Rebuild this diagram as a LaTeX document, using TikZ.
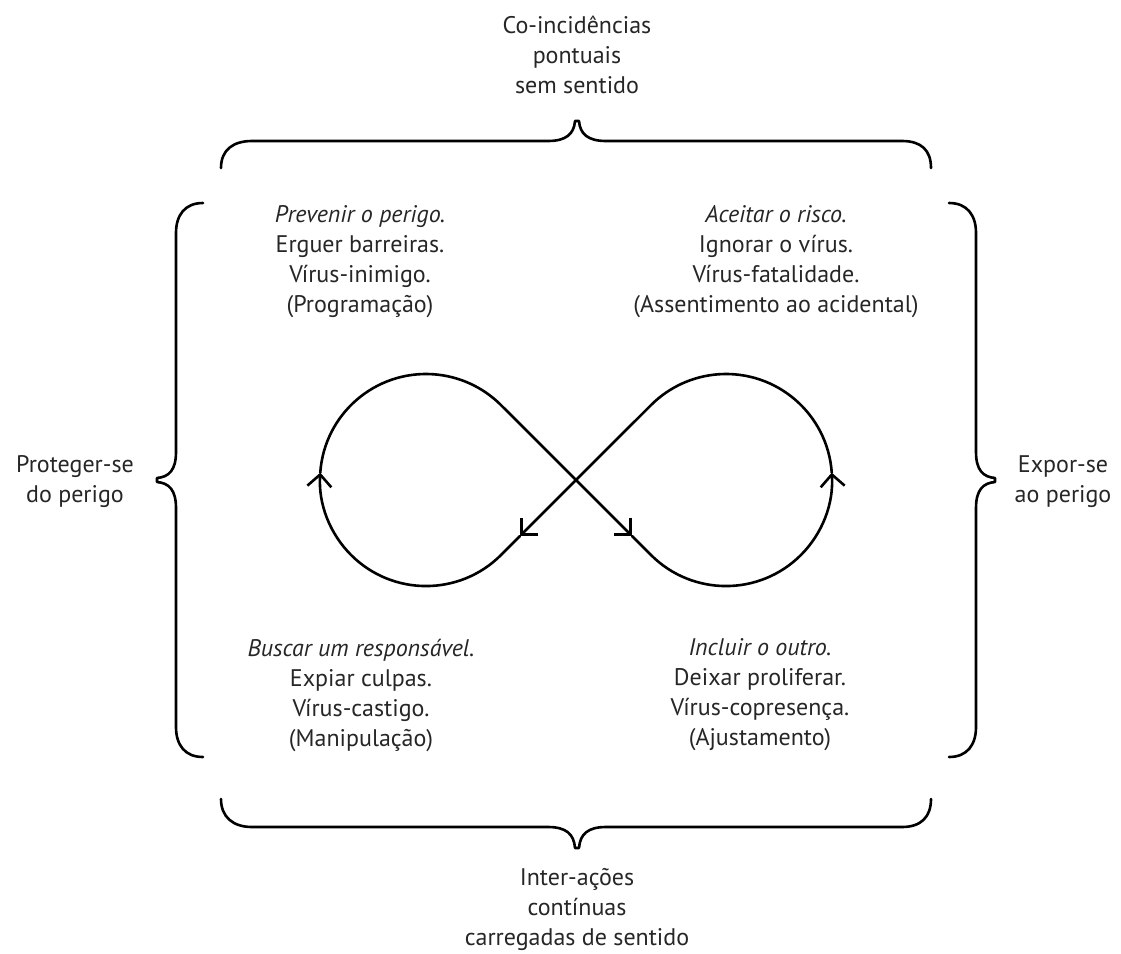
\documentclass[tikz,border=0pt]{standalone}
\usepackage{fontspec}
\setmainfont{PT Sans}
\usetikzlibrary{arrows.meta}
\begin{document}
\begin{tikzpicture}[x=1pt,y=-1pt,
  curve/.style={line width=2.6pt, black, line cap=round, line join=round},
  flow/.style={curve, -{Straight Barb[length=12pt,width=24pt]}},
  lbl/.style={text=black!85, font=\fontsize{24}{30}\selectfont, align=center, inner sep=0pt},
]
\useasboundingbox (0,0) rectangle (1121,953);

% centres of the two loops, the crossing point and the points on the straight runs
\coordinate (c1) at (426,480);
\coordinate (c2) at (726,480);
\coordinate (p)  at (576,480);
\coordinate (a2) at (632,536);
\coordinate (a4) at (520,536);
\coordinate (t2) at (501,555);
\coordinate (t3) at (651,555);

% the figure eight, drawn as four arrowed stretches
\draw[flow] ([shift={(184:106)}]c1) arc[start angle=184,end angle=315,radius=106] -- (p) -- (a2);
\draw[flow] (a2) -- (t3) arc[start angle=135,end angle=-4,radius=106];
\draw[flow] ([shift={(-4:106)}]c2) arc[start angle=-4,end angle=-135,radius=106] -- (p) -- (a4);
\draw[flow] (a4) -- (t2) arc[start angle=45,end angle=184,radius=106];

% curly braces
\draw[curve] (221,168) .. controls (221,150) and (233,141) .. (252,141) -- (548,141)
  .. controls (566,141) and (574,134) .. (575,121) -- (579,121)
  .. controls (580,134) and (588,141) .. (606,141) -- (902,141)
  .. controls (921,141) and (931,150) .. (931,168);
\draw[curve] (221,799) .. controls (221,817) and (233,827) .. (252,827) -- (548,827)
  .. controls (566,827) and (574,834) .. (575,848) -- (579,848)
  .. controls (580,834) and (588,827) .. (606,827) -- (902,827)
  .. controls (921,827) and (931,817) .. (931,799);
\draw[curve] (203,203) .. controls (185,203) and (176,215) .. (176,233) -- (176,452)
  .. controls (176,470) and (169,477) .. (157,478) -- (157,482)
  .. controls (169,483) and (176,490) .. (176,508) -- (176,727)
  .. controls (176,745) and (185,757) .. (203,757);
\draw[curve] (949,203) .. controls (967,203) and (976,215) .. (976,233) -- (976,452)
  .. controls (976,470) and (983,477) .. (995,478) -- (995,482)
  .. controls (983,483) and (976,490) .. (976,508) -- (976,727)
  .. controls (976,745) and (967,757) .. (949,757);

% labels
\node[lbl] (top) at (577,55) {Co-incidências\\pontuais\\sem sentido};
\node[lbl] (bottom) at (577,909) {Inter-ações\\contínuas\\carregadas de sentido};
\node[lbl] (left) at (75,482) {Proteger-se\\do perigo};
\node[lbl] (right) at (1063,482) {Expor-se\\ao perigo};
\node[lbl] (q1) at (360,262) {\textit{Prevenir o perigo.}\\Erguer barreiras.\\Vírus-inimigo.\\(Programação)};
\node[lbl] (q2) at (776,262) {\textit{Aceitar o risco.}\\Ignorar o vírus.\\Vírus-fatalidade.\\(Assentimento ao acidental)};
\node[lbl] (q3) at (361,695) {\textit{Buscar um responsável.}\\Expiar culpas.\\Vírus-castigo.\\(Manipulação)};
\node[lbl] (q4) at (760,695) {\textit{Incluir o outro.}\\Deixar proliferar.\\Vírus-copresença.\\(Ajustamento)};
\end{tikzpicture}
\end{document}
